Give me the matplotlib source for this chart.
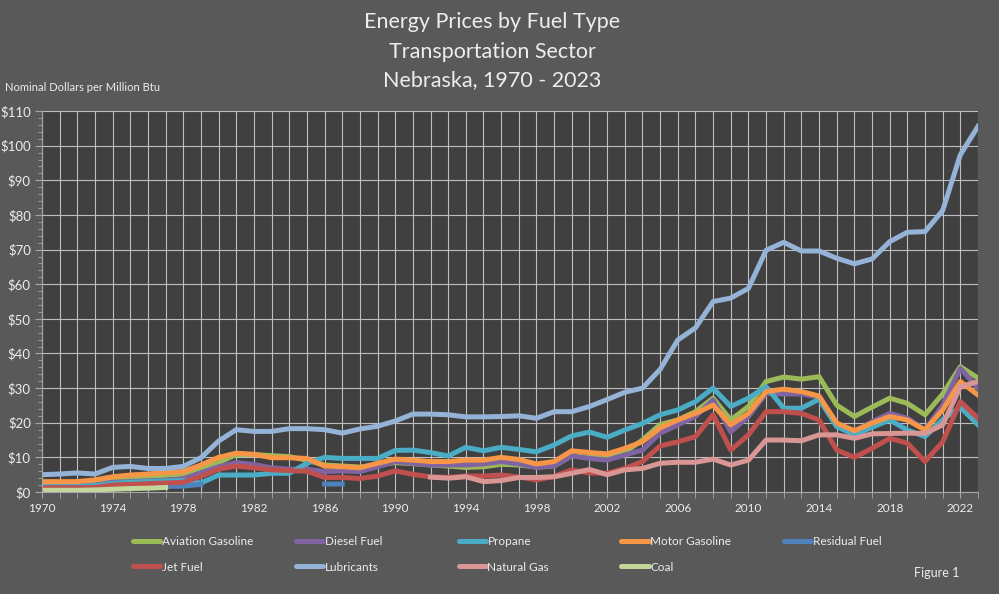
import numpy as np
import matplotlib
matplotlib.use('Agg')
import matplotlib.pyplot as plt
from matplotlib.lines import Line2D
from matplotlib.ticker import MultipleLocator, FuncFormatter

plt.rcParams['font.family'] = ['Lato', 'DejaVu Sans']

years = list(range(1970, 2024))
nan = np.nan

aviation_gasoline = [2.5, 2.6, 2.7, 2.9, 3.8, 4.2, 4.5, 4.8, 5.2, 7.0,
                     8.5, 10.8, 10.8, 10.5, 10.2, 9.2, 7.8, 7.5, 7.2, 7.8,
                     8.5, 8.2, 7.8, 7.5, 7.1, 7.3, 8.0, 7.8, 7.2, 7.5,
                     10.5, 10.0, 9.8, 11.5, 15.0, 19.5, 20.8, 23.2, 27.1, 20.8,
                     24.7, 31.9, 33.2, 32.6, 33.3, 25.1, 21.8, 24.5, 27.1, 25.6,
                     22.3, 28.3, 36.2, 32.9]
diesel_fuel = [1.8, 1.8, 1.9, 2.0, 2.8, 3.0, 3.2, 3.4, 3.8, 5.5,
               7.3, 8.5, 7.9, 7.0, 6.6, 6.6, 5.9, 6.1, 5.9, 7.3,
               8.8, 8.3, 7.8, 7.8, 7.8, 8.1, 8.8, 8.1, 7.1, 7.5,
               10.4, 9.7, 9.2, 10.7, 12.1, 17.0, 19.4, 21.8, 26.6, 17.4,
               21.8, 28.5, 28.3, 28.3, 27.4, 18.9, 17.4, 20.3, 22.7, 21.3,
               17.9, 25.1, 35.7, 30.0]
propane = [1.6, 1.6, 1.7, 1.8, 2.5, 2.8, 3.0, 3.2, 3.3, 2.6,
           4.9, 4.9, 4.9, 5.4, 5.4, 8.3, 10.0, 9.7, 9.7, 9.7,
           12.0, 12.1, 11.4, 10.4, 12.9, 11.9, 12.9, 12.3, 11.6, 13.6,
           16.2, 17.3, 15.8, 17.9, 19.8, 22.3, 23.7, 26.1, 30.0, 24.7,
           27.1, 30.4, 24.2, 24.2, 26.8, 18.9, 16.5, 18.7, 20.8, 17.9,
           16.0, 21.0, 24.5, 19.4]
motor_gasoline = [3.0, 3.0, 3.0, 3.5, 4.4, 4.9, 5.2, 5.6, 5.9, 7.8,
                  10.0, 11.2, 10.9, 9.9, 9.9, 9.7, 7.5, 7.3, 7.0, 8.3,
                  9.5, 9.2, 8.8, 8.8, 9.2, 9.2, 10.0, 9.4, 8.1, 8.8,
                  11.9, 11.4, 11.0, 12.6, 14.5, 18.5, 20.8, 22.7, 25.1, 19.4,
                  22.7, 29.0, 29.7, 29.0, 27.7, 19.9, 17.7, 19.9, 21.8, 20.8,
                  17.9, 23.7, 31.9, 28.0]
residual_fuel = [1.2, 1.2, 1.2, 1.3, 1.5, 1.5, 1.5, 1.6, 1.7, 2.2,
                 nan, nan, nan, nan, nan, nan, 2.3, 2.3, nan, nan] + [nan] * 34
jet_fuel = [1.2, 1.2, 1.2, 1.3, 2.0, 2.2, 2.4, 2.6, 2.8, 4.5,
            6.6, 7.5, 7.0, 6.4, 6.2, 6.0, 4.2, 4.2, 3.9, 4.6,
            6.1, 5.1, 4.4, 4.2, 4.6, 4.6, 4.9, 4.3, 3.5, 4.5,
            6.4, 5.5, 5.4, 6.8, 8.8, 13.3, 14.5, 16.0, 22.3, 12.1,
            16.5, 23.2, 23.2, 22.7, 20.8, 12.1, 10.0, 12.6, 15.5, 14.1,
            8.8, 14.5, 26.1, 21.3]
lubricants = [5.0, 5.2, 5.5, 5.2, 7.1, 7.4, 6.8, 6.8, 7.4, 9.9,
              14.7, 18.0, 17.5, 17.5, 18.3, 18.3, 18.0, 17.0, 18.2, 19.0,
              20.5, 22.5, 22.5, 22.3, 21.7, 21.7, 21.8, 22.0, 21.3, 23.2,
              23.2, 24.7, 26.7, 28.8, 30.0, 35.4, 43.9, 47.4, 55.0, 56.0,
              58.8, 69.8, 72.1, 69.6, 69.6, 67.5, 65.9, 67.3, 72.3, 75.0,
              75.2, 81.3, 97.4, 105.6]
natural_gas = [nan] * 22 + [4.3, 4.0, 4.4, 3.0, 3.3, 4.2, 4.2, 4.4,
                            5.4, 6.5, 5.0, 6.4, 6.8, 8.3, 8.6, 8.6, 9.5, 7.8,
                            9.2, 15.0, 15.0, 14.8, 16.5, 16.5, 15.5, 16.8, 16.9, 17.0,
                            16.9, 19.4, 30.4, 31.9]
coal = [0.5, 0.5, 0.5, 0.6, 0.8, 1.0, 1.1, 1.3] + [nan] * 46

x_ticks = list(range(1970, 2024, 4))

series = [
    ('Aviation Gasoline', aviation_gasoline, '#9BBB59'),
    ('Diesel Fuel', diesel_fuel, '#8064A2'),
    ('Propane', propane, '#4BACC6'),
    ('Motor Gasoline', motor_gasoline, '#F79646'),
    ('Residual Fuel', residual_fuel, '#4F81BD'),
    ('Jet Fuel', jet_fuel, '#C0504D'),
    ('Lubricants', lubricants, '#95B3D7'),
    ('Natural Gas', natural_gas, '#D99694'),
    ('Coal', coal, '#C3D69B'),
]

text_color = '#EDEDED'
fig = plt.figure(figsize=(9.99, 5.94), dpi=100, facecolor='#595959')
ax = fig.add_axes([0.042, 0.1717, 0.937, 0.6413])
ax.set_facecolor('#404040')

handles = []
for name, vals, color in series:
    line, = ax.plot(years, vals, color=color, lw=3.6, label=name,
                    solid_joinstyle='round')
    handles.append(line)

ax.set_xlim(1970, 2023)
ax.set_ylim(0, 110)
ax.set_xticks(x_ticks)
ax.xaxis.set_minor_locator(MultipleLocator(1))
ax.yaxis.set_major_locator(MultipleLocator(10))
ax.yaxis.set_minor_locator(MultipleLocator(2))
ax.yaxis.set_major_formatter(FuncFormatter(lambda v, p: '$%d' % v))
ax.grid(True, which='major', axis='y', color='#BFBFBF', lw=0.8)
ax.grid(True, which='both', axis='x', color='#BFBFBF', lw=0.8)
ax.set_axisbelow(True)
ax.tick_params(axis='both', which='both', colors='#A6A6A6', labelcolor=text_color)
ax.tick_params(axis='y', which='major', length=5, labelsize=9.5, pad=3)
ax.tick_params(axis='y', which='minor', length=3)
ax.tick_params(axis='x', which='major', length=4, labelsize=8.5, pad=4)
ax.tick_params(axis='x', which='minor', length=4)
for s in ['top', 'right']:
    ax.spines[s].set_visible(False)
for s in ['left', 'bottom']:
    ax.spines[s].set_color('#A6A6A6')

fig.text(0.493, 0.963, 'Energy Prices by Fuel Type', ha='center', va='center',
         fontsize=15.5, color=text_color)
fig.text(0.493, 0.913, 'Transportation Sector', ha='center', va='center',
         fontsize=15.5, color=text_color)
fig.text(0.493, 0.865, 'Nebraska, 1970 - 2023', ha='center', va='center',
         fontsize=15.5, color=text_color)
fig.text(0.005, 0.853, 'Nominal Dollars per Million Btu', ha='left', va='center',
         fontsize=8, color=text_color)
fig.text(0.915, 0.035, 'Figure 1', ha='left', va='center',
         fontsize=9, color=text_color)

# legend: one small legend per column so columns are evenly spaced
col_x = [0.133, 0.296, 0.459, 0.622, 0.785]
for i in range(5):
    col = [handles[i]]
    if i + 5 < len(handles):
        col.append(handles[i + 5])
    leg_handles = [Line2D([0], [0], color=h.get_color(), lw=3.6,
                          solid_capstyle='round') for h in col]
    fig.legend(leg_handles, [h.get_label() for h in col], loc='upper left',
               bbox_to_anchor=(col_x[i], 0.098), frameon=False, fontsize=8.5,
               labelcolor=text_color, handlelength=2.3, handletextpad=0.15,
               labelspacing=1.25, borderaxespad=0, borderpad=0)

fig.savefig('out.png', dpi=100, facecolor=fig.get_facecolor())
